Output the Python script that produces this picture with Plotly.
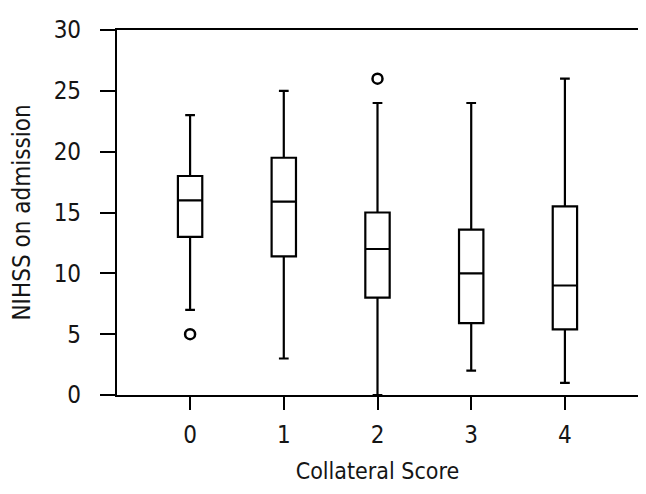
import plotly.graph_objects as go

categories = [0, 1, 2, 3, 4]
q1 = [13, 11.4, 8, 5.9, 5.4]
median = [16, 15.9, 12, 10, 9]
q3 = [18, 19.5, 15, 13.6, 15.5]
lower_whisker = [7, 3, 0, 2, 1]
upper_whisker = [23, 25, 24, 24, 26]
outlier_x = [0, 2]
outlier_y = [5, 26]
y_ticks = [0, 5, 10, 15, 20, 25, 30]

FAMILY = "DejaVu Sans Condensed, Liberation Sans Narrow, Roboto, sans-serif"
TICK_FONT = dict(family=FAMILY, size=24, color="#151515")
XT_FONT = dict(family=FAMILY, size=23, color="#151515")
YT_FONT = dict(family=FAMILY, size=24, color="#151515")

fig = go.Figure()
fig.add_trace(go.Box(
    x=categories, q1=q1, median=median, q3=q3,
    lowerfence=lower_whisker, upperfence=upper_whisker,
    fillcolor="white", line=dict(color="black", width=2.2),
    whiskerwidth=0.4, width=0.26, boxpoints=False, showlegend=False,
    hoverinfo="skip",
))
fig.add_trace(go.Scatter(
    x=outlier_x, y=outlier_y, mode="markers",
    marker=dict(symbol="circle-open", size=10, color="black", line=dict(width=2.5)),
    showlegend=False, hoverinfo="skip",
))

fig.update_layout(
    width=638, height=486,
    margin=dict(l=109, r=8, t=22, b=99),
    paper_bgcolor="white", plot_bgcolor="white",
    font=TICK_FONT,
    xaxis=dict(
        range=[-0.78, 4.78], tickvals=categories, ticktext=[str(c) for c in categories],
        showline=True, linecolor="black", linewidth=2.2, mirror=True,
        ticks="outside", ticklen=13, tickwidth=2.2, tickcolor="black",
        showgrid=False, zeroline=False, ticklabelstandoff=4, automargin=False,
        tickfont=TICK_FONT,
        title=dict(text="Collateral Score", font=XT_FONT, standoff=15),
    ),
    yaxis=dict(
        range=[0, 30], tickvals=y_ticks,
        showline=True, linecolor="black", linewidth=2.2, mirror=True,
        ticks="outside", ticklen=15, tickwidth=2.2, tickcolor="black",
        showgrid=False, zeroline=False, ticklabelstandoff=14, automargin=False,
        tickfont=TICK_FONT,
        title=dict(text="NIHSS on admission", font=YT_FONT, standoff=32),
    ),
)

fig.write_html("out.html")
